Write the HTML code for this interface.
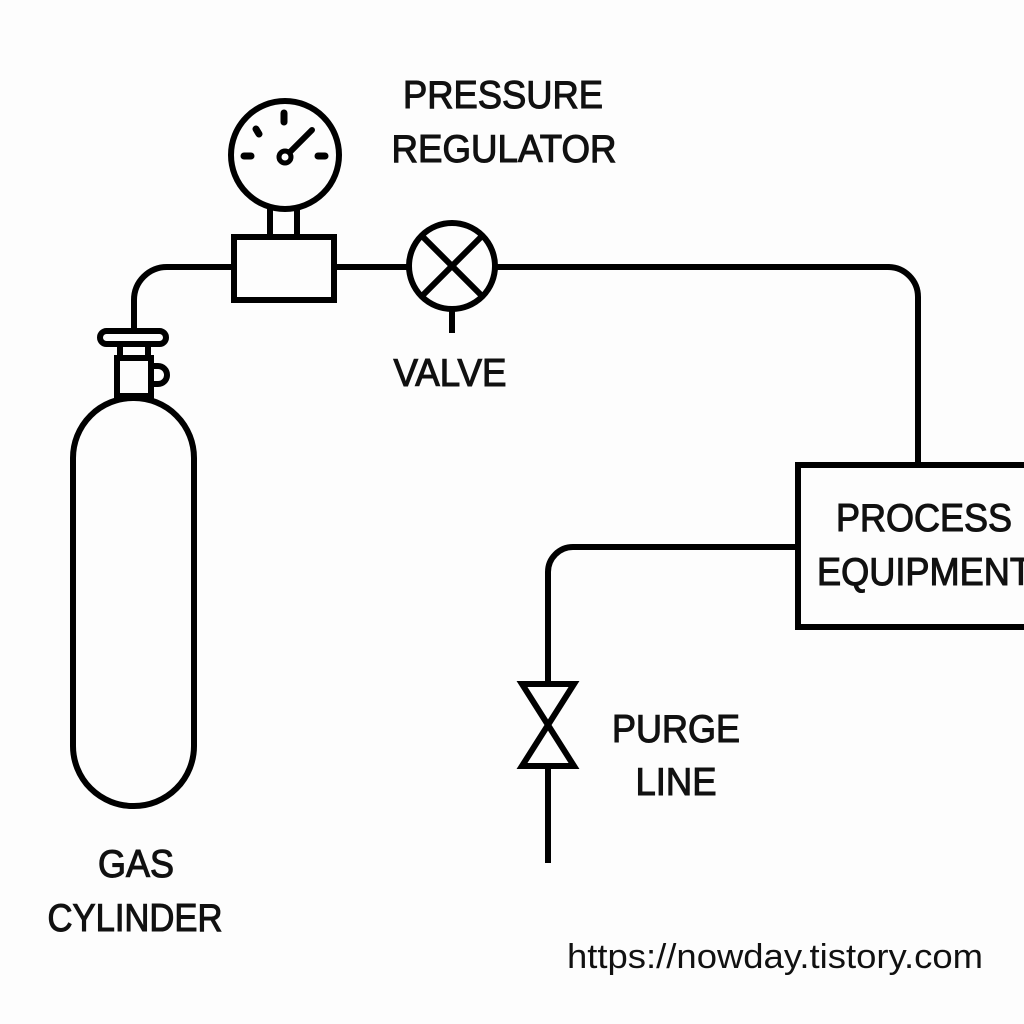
<!DOCTYPE html>
<html><head><meta charset="utf-8"><style>
html,body{margin:0;padding:0;background:#fff;width:1024px;height:1024px;overflow:hidden}
svg{display:block}
text{font-family:"Liberation Sans",sans-serif;fill:#111;}
.l{font-size:39px;stroke:#111;stroke-width:1.1px}
</style></head><body>
<svg width="1024" height="1024" viewBox="0 0 1024 1024" xmlns="http://www.w3.org/2000/svg">
<rect width="1024" height="1024" fill="#fdfdfd"/>
<g fill="none" stroke="#000" stroke-width="6" stroke-linejoin="miter">
  <circle cx="285" cy="155" r="54"/>
  <line x1="284" y1="113" x2="284" y2="122" stroke-linecap="round" stroke-width="7"/>
  <line x1="256" y1="129" x2="259" y2="134" stroke-linecap="round" stroke-width="7"/>
  <line x1="244" y1="156" x2="251" y2="156" stroke-linecap="round" stroke-width="7"/>
  <line x1="318" y1="156" x2="325" y2="156" stroke-linecap="round" stroke-width="7"/>
  <line x1="285" y1="157" x2="312" y2="130" stroke-linecap="round" stroke-width="6"/>
  <circle cx="285" cy="157" r="6" stroke-width="5" fill="#fff"/>
  <line x1="270" y1="209" x2="270" y2="237"/>
  <line x1="297" y1="209" x2="297" y2="237"/>
  <rect x="234" y="237" width="100" height="63"/>
  <path d="M234 267 H167 A33 33 0 0 0 134 300 V331"/>
  <line x1="337" y1="267" x2="409" y2="267"/>
  <circle cx="452" cy="266" r="43"/>
  <line x1="422" y1="236" x2="482" y2="296"/>
  <line x1="482" y1="236" x2="422" y2="296"/>
  <line x1="452" y1="309" x2="452" y2="333"/>
  <path d="M495 267 H888 A30 30 0 0 1 918 297 V465"/>
  <rect x="798" y="465" width="240" height="162"/>
  <path d="M798 547 H573 A25 25 0 0 0 548 572 V684"/>
  <path d="M522 684 H574 L522 766 H574 Z"/>
  <line x1="548" y1="766" x2="548" y2="863"/>
  <rect x="100" y="331" width="66" height="13" rx="6.5"/>
  <rect x="120" y="344" width="28" height="14"/>
  <rect x="117" y="358" width="34" height="38"/>
  <path d="M151 366 H158 A9 9 0 0 1 158 384 H151"/>
  <rect x="73" y="398" width="121" height="408" rx="60" ry="60"/>
</g>
<text class="l" x="503" y="108" text-anchor="middle" textLength="200" lengthAdjust="spacingAndGlyphs">PRESSURE</text>
<text class="l" x="504" y="162" text-anchor="middle" textLength="225" lengthAdjust="spacingAndGlyphs">REGULATOR</text>
<text class="l" x="450" y="386" text-anchor="middle" textLength="113" lengthAdjust="spacingAndGlyphs">VALVE</text>
<text class="l" x="924" y="531" text-anchor="middle" textLength="176" lengthAdjust="spacingAndGlyphs">PROCESS</text>
<text class="l" x="817" y="585" textLength="215" lengthAdjust="spacingAndGlyphs">EQUIPMENT</text>
<text class="l" x="676" y="742" text-anchor="middle" textLength="128" lengthAdjust="spacingAndGlyphs">PURGE</text>
<text class="l" x="676" y="795" text-anchor="middle" textLength="81" lengthAdjust="spacingAndGlyphs">LINE</text>
<text class="l" x="136" y="877" text-anchor="middle" textLength="76" lengthAdjust="spacingAndGlyphs">GAS</text>
<text class="l" x="135" y="931" text-anchor="middle" textLength="175" lengthAdjust="spacingAndGlyphs">CYLINDER</text>
<text x="567" y="968" style="font-size:34px" textLength="416" lengthAdjust="spacingAndGlyphs">https://nowday.tistory.com</text>
</svg>
</body></html>
